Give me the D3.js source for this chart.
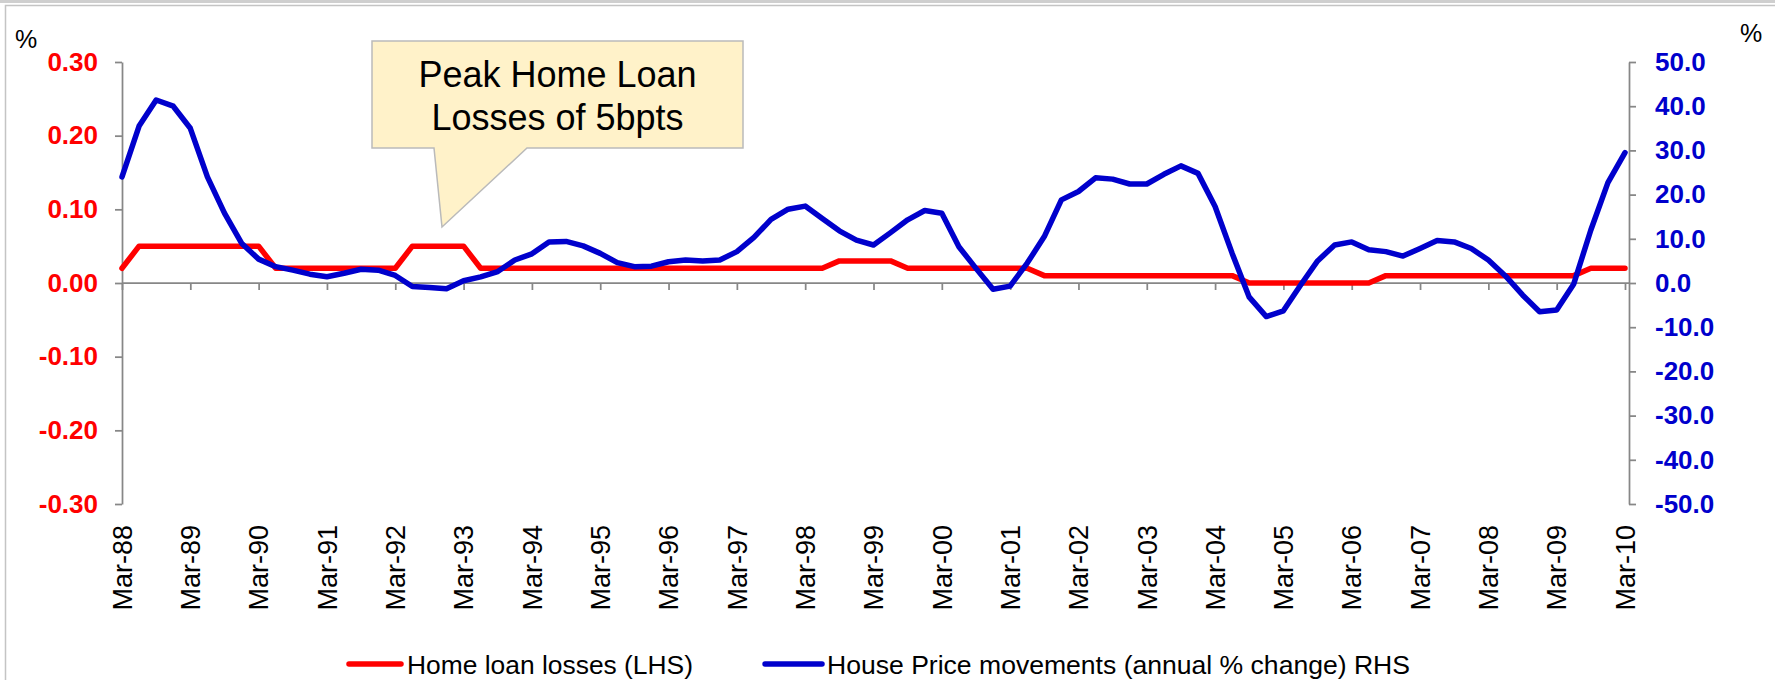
<!DOCTYPE html>
<html>
<head>
<meta charset="utf-8">
<script src="https://cdn.jsdelivr.net/npm/d3@7"></script>
<style>
  html, body { margin: 0; padding: 0; background: #fff; }
  svg { display: block; }
</style>
</head>
<body>
<div id="chart"></div>
<script>
// quarterly data, Mar-88 .. Mar-10
var years = ['88','89','90','91','92','93','94','95','96','97','98','99','00','01','02','03','04','05','06','07','08','09','10'];
var months = ['Mar','Jun','Sep','Dec'];

var xTickLabels = ['Mar-88','Mar-89','Mar-90','Mar-91','Mar-92','Mar-93','Mar-94','Mar-95','Mar-96','Mar-97','Mar-98',
  'Mar-99','Mar-00','Mar-01','Mar-02','Mar-03','Mar-04','Mar-05','Mar-06','Mar-07','Mar-08','Mar-09','Mar-10'];

// Home loan losses (LHS), %
var lossValues = [
  0.02, 0.05, 0.05, 0.05,
  0.05, 0.05, 0.05, 0.05,
  0.05, 0.02, 0.02, 0.02,
  0.02, 0.02, 0.02, 0.02,
  0.02, 0.05, 0.05, 0.05,
  0.05, 0.02, 0.02, 0.02,
  0.02, 0.02, 0.02, 0.02,
  0.02, 0.02, 0.02, 0.02,
  0.02, 0.02, 0.02, 0.02,
  0.02, 0.02, 0.02, 0.02,
  0.02, 0.02, 0.03, 0.03,
  0.03, 0.03, 0.02, 0.02,
  0.02, 0.02, 0.02, 0.02,
  0.02, 0.02, 0.01, 0.01,
  0.01, 0.01, 0.01, 0.01,
  0.01, 0.01, 0.01, 0.01,
  0.01, 0.01, 0.00, 0.00,
  0.00, 0.00, 0.00, 0.00,
  0.00, 0.00, 0.01, 0.01,
  0.01, 0.01, 0.01, 0.01,
  0.01, 0.01, 0.01, 0.01,
  0.01, 0.01, 0.02, 0.02,
  0.02
];

// House price movements, annual % change (RHS)
var priceValues = [
  24.0, 35.5, 41.4, 40.0,
  35.0, 24.0, 15.8, 9.0,
  5.4, 3.7, 2.9, 2.0,
  1.4, 2.2, 3.1, 2.9,
  1.7, -0.8, -1.0, -1.3,
  0.5, 1.4, 2.6, 5.2,
  6.6, 9.3, 9.4, 8.4,
  6.7, 4.6, 3.7, 3.8,
  4.8, 5.2, 5.0, 5.2,
  7.1, 10.3, 14.4, 16.7,
  17.4, 14.6, 11.8, 9.7,
  8.6, 11.4, 14.3, 16.4,
  15.8, 8.2, 3.3, -1.4,
  -0.7, 4.5, 10.5, 18.8,
  20.7, 23.8, 23.5, 22.4,
  22.4, 24.6, 26.5, 24.8,
  17.3, 6.7, -3.2, -7.6,
  -6.3, -0.5, 5.0, 8.6,
  9.3, 7.5, 7.1, 6.1,
  7.8, 9.6, 9.3, 7.8,
  5.2, 1.6, -2.7, -6.5,
  -6.1, -0.2, 12.0, 22.7,
  29.5
];

var leftTicks = [0.30, 0.20, 0.10, 0.00, -0.10, -0.20, -0.30];
var rightTicks = [50, 40, 30, 20, 10, 0, -10, -20, -30, -40, -50];

var seriesNames = ['Home loan losses (LHS)', 'House Price movements (annual % change) RHS'];

var categories = [];
years.forEach(function(y) {
  months.forEach(function(m) {
    if (categories.length < lossValues.length) categories.push(m + '-' + y);
  });
});

var width = 1775;
var height = 680;
var font = '"Liberation Sans", Arial, Helvetica, sans-serif';
var red = '#ff0000';
var blue = '#0000cc';
var axisColor = '#878787';

var svg = d3.select('#chart')
  .append('svg')
  .attr('width', width)
  .attr('height', height)
  .style('font-family', font);

// outer frame
svg.append('rect')
  .attr('x', 0).attr('y', 0)
  .attr('width', width).attr('height', 3)
  .attr('fill', '#cfcfcf');
svg.append('path')
  .attr('d', 'M5.5,' + height + 'V5.5H' + width)
  .attr('fill', 'none')
  .attr('stroke', '#c4c4c4')
  .attr('stroke-width', 1.5);

var x = d3.scalePoint().domain(categories).range([122, 1625]);
var yLeft = d3.scaleLinear().domain([-0.3, 0.3]).range([504, 62]);
var yRight = d3.scaleLinear().domain([-50, 50]).range([504, 62]);

function styleAxis(g, color) {
  g.attr('font-family', font).attr('font-size', 26);
  g.select('.domain').attr('stroke', axisColor).attr('stroke-width', 1.75);
  g.selectAll('.tick line').attr('stroke', axisColor).attr('stroke-width', 1.75);
  g.selectAll('.tick text')
    .attr('fill', color)
    .attr('font-weight', 'bold');
}

// left axis
var leftAxis = svg.append('g')
  .attr('transform', 'translate(122,0)')
  .call(d3.axisLeft(yLeft)
    .tickValues(leftTicks)
    .tickSize(7)
    .tickSizeOuter(0)
    .tickPadding(17)
    .tickFormat(function(d) { return d.toFixed(2); }));
styleAxis(leftAxis, red);

// right axis
var rightAxis = svg.append('g')
  .attr('transform', 'translate(1629,0)')
  .call(d3.axisRight(yRight)
    .tickValues(rightTicks)
    .tickSize(7)
    .tickSizeOuter(0)
    .tickPadding(19)
    .tickFormat(function(d) { return d.toFixed(1); }));
styleAxis(rightAxis, blue);

// category axis on the zero line
var xAxis = svg.append('g')
  .attr('transform', 'translate(0,' + yLeft(0) + ')')
  .call(d3.axisBottom(x)
    .tickValues(xTickLabels)
    .tickSize(7)
    .tickSizeOuter(0)
    .tickFormat(''));
xAxis.select('.domain').remove();
xAxis.selectAll('.tick line').attr('stroke', axisColor).attr('stroke-width', 1.75);
xAxis.append('line')
  .attr('x1', x(categories[0])).attr('x2', 1629)
  .attr('y1', 0).attr('y2', 0)
  .attr('stroke', axisColor)
  .attr('stroke-width', 1.75);

// rotated labels at the bottom
svg.append('g')
  .selectAll('text')
  .data(xTickLabels)
  .enter()
  .append('text')
  .attr('transform', function(d) { return 'translate(' + x(d) + ',525) rotate(-90)'; })
  .attr('text-anchor', 'end')
  .attr('dy', '0.36em')
  .attr('font-size', 27)
  .attr('fill', '#000')
  .text(function(d) { return d; });

// % units
svg.append('text').attr('x', 15).attr('y', 48).attr('font-size', 25).text('%');
svg.append('text').attr('x', 1740).attr('y', 42).attr('font-size', 25).text('%');

// lines
var lossLine = d3.line()
  .x(function(d, i) { return x(categories[i]); })
  .y(function(d) { return yLeft(d); });

var priceLine = d3.line()
  .x(function(d, i) { return x(categories[i]); })
  .y(function(d) { return yRight(d); });

svg.append('path')
  .datum(lossValues)
  .attr('d', lossLine)
  .attr('fill', 'none')
  .attr('stroke', red)
  .attr('stroke-width', 5.5)
  .attr('stroke-linejoin', 'round')
  .attr('stroke-linecap', 'round');

svg.append('path')
  .datum(priceValues)
  .attr('d', priceLine)
  .attr('fill', 'none')
  .attr('stroke', blue)
  .attr('stroke-width', 5.5)
  .attr('stroke-linejoin', 'round')
  .attr('stroke-linecap', 'round');

// callout
svg.append('path')
  .attr('d', 'M372,41H743V148H527L442,227L434,148H372Z')
  .attr('fill', '#fff2c9')
  .attr('stroke', '#bababa')
  .attr('stroke-width', 1.5);

var callout = svg.append('g')
  .attr('font-size', 36)
  .attr('text-anchor', 'middle')
  .attr('fill', '#000');
callout.append('text').attr('x', 557.5).attr('y', 87).text('Peak Home Loan');
callout.append('text').attr('x', 557.5).attr('y', 130).text('Losses of 5bpts');

// legend
var legendItems = [
  { name: seriesNames[0], color: red, x1: 349, x2: 401, tx: 407, len: 286 },
  { name: seriesNames[1], color: blue, x1: 765, x2: 822, tx: 827, len: 583 }
];

var legend = svg.append('g').attr('class', 'legend');
legendItems.forEach(function(d) {
  legend.append('line')
    .attr('x1', d.x1).attr('x2', d.x2)
    .attr('y1', 664).attr('y2', 664)
    .attr('stroke', d.color)
    .attr('stroke-width', 5.5)
    .attr('stroke-linecap', 'round');
  legend.append('text')
    .attr('x', d.tx)
    .attr('y', 674)
    .attr('font-size', 25)
    .attr('textLength', d.len)
    .attr('lengthAdjust', 'spacingAndGlyphs')
    .text(d.name);
});
</script>
</body>
</html>
